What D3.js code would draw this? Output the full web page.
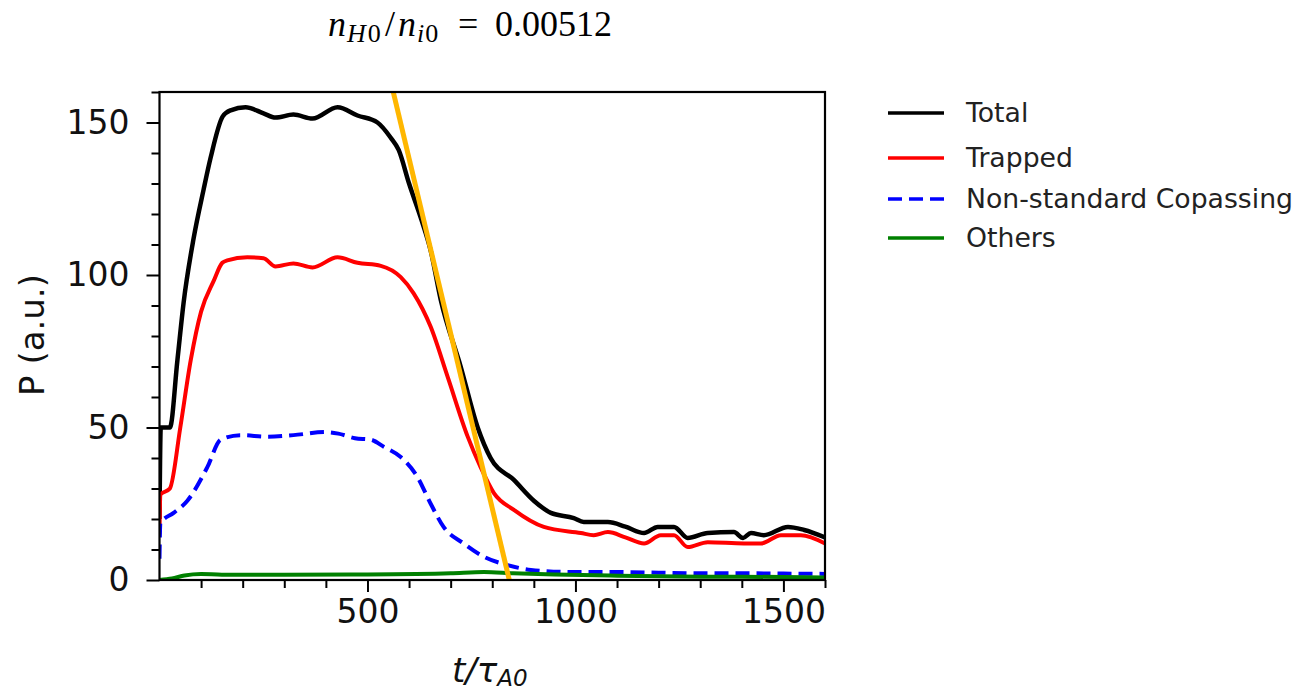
<!DOCTYPE html>
<html>
<head>
<meta charset="utf-8">
<script src="https://cdn.jsdelivr.net/npm/d3@7"></script>
<style>
  body { margin: 0; background: #fff; }
  svg { display: block; }
</style>
</head>
<body>
<svg width="1299" height="690"></svg>
<script>
// values, t in units of tau_A0, P in a.u.
var totalT = [0, 3, 25, 43, 58, 82, 106, 123, 152, 171, 207, 250, 279, 322, 368, 428, 476, 524, 556, 575, 600, 630, 652, 676, 724, 765, 796, 852, 900, 941, 996, 1020, 1078, 1120, 1165, 1198, 1237, 1270, 1318, 1381, 1403, 1422, 1453, 1511, 1550, 1600];
var totalP = [20, 50, 50, 72, 91, 112, 128, 138.5, 152, 154, 155, 153, 151.6, 152.6, 151.3, 155, 152.3, 150, 145, 141, 130, 118, 108, 92, 70, 50, 40, 32.8, 26, 22, 20.3, 19, 19, 17.5, 15.4, 17.4, 17.4, 13.8, 15.4, 15.7, 13.8, 15.4, 14.7, 17.4, 16.4, 14];

var trappedT = [0, 2, 25, 50, 75, 100, 130, 151, 163, 211, 250, 279, 322, 368, 428, 476, 532, 580, 611, 652, 693, 741, 772, 804, 852, 924, 1013, 1044, 1078, 1120, 1165, 1205, 1237, 1270, 1318, 1405, 1446, 1494, 1542, 1600];
var trappedP = [15, 28, 30, 50, 72, 88, 98, 104, 104.8, 105.8, 105.5, 102.8, 103.8, 102.5, 105.8, 104, 103, 99.3, 94, 83, 66.5, 47, 37, 28.5, 23, 17.4, 15.4, 14.7, 15.7, 14, 12, 14.7, 14.7, 10.8, 12.4, 12, 12, 14.7, 14.7, 12];

var copassT = [0, 2, 34, 67, 115, 147, 195, 260, 322, 400, 430, 470, 508, 540, 580, 620, 652, 683, 731, 780, 837, 893, 996, 1100, 1200, 1300, 1400, 1500, 1600];
var copassP = [7, 18.7, 22, 26, 37, 46, 47.5, 47, 47.5, 48.5, 48, 46.5, 46, 43.6, 40.3, 33.8, 25, 17.4, 12, 7.6, 4.9, 3.3, 2.6, 2.6, 2.4, 2.2, 2.2, 2.1, 2];

var othersT = [0, 30, 60, 100, 150, 300, 500, 700, 780, 850, 950, 1100, 1300, 1500, 1600];
var othersP = [0, 0.5, 1.5, 2, 1.7, 1.7, 1.8, 2.2, 2.6, 2.2, 1.8, 1.4, 1.1, 1, 0.8];

// fitted slope drawn in orange
var fitT = [562, 841];
var fitP = [160, 0];

var xMajor = [500, 1000, 1500];
var yMajor = [0, 50, 100, 150];

var series = [
  { name: "Total", t: totalT, p: totalP, color: "#000000", width: 4.5, dash: null },
  { name: "Trapped", t: trappedT, p: trappedP, color: "#ff0000", width: 4, dash: null },
  { name: "Non-standard Copassing", t: copassT, p: copassP, color: "#0000ff", width: 4, dash: "14,7" },
  { name: "Others", t: othersT, p: othersP, color: "#008000", width: 4, dash: null }
];

var svg = d3.select("svg"),
  plotL = 159.5, plotR = 825, plotT = 92, plotB = 580;

var x = d3.scaleLinear().domain([0, 1600]).range([plotL, plotR]);
var y = d3.scaleLinear().domain([0, 160]).range([plotB, plotT]);

var xMinor = d3.range(100, 1601, 100).filter(function(v) { return xMajor.indexOf(v) < 0; });
var yMinor = d3.range(10, 161, 10).filter(function(v) { return yMajor.indexOf(v) < 0; });

svg.append("defs").append("clipPath").attr("id", "plot")
  .append("rect")
  .attr("x", plotL).attr("y", plotT)
  .attr("width", plotR - plotL).attr("height", plotB - plotT);

// ticks
function styleAxis(g) {
  g.select(".domain").remove();
  g.selectAll(".tick line").attr("stroke", "#000").attr("stroke-width", 2);
  g.selectAll(".tick text")
    .attr("font-family", "DejaVu Sans")
    .attr("font-size", 33)
    .attr("fill", "#111");
}

svg.append("g")
  .attr("transform", "translate(0," + plotB + ")")
  .call(d3.axisBottom(x).tickValues(xMinor).tickSize(8).tickFormat(""))
  .call(styleAxis);
svg.append("g")
  .attr("transform", "translate(0," + plotB + ")")
  .call(d3.axisBottom(x).tickValues(xMajor).tickSize(12).tickPadding(8).tickFormat(d3.format("d")))
  .call(styleAxis);

svg.append("g")
  .attr("transform", "translate(" + plotL + ",0)")
  .call(d3.axisLeft(y).tickValues(yMinor).tickSize(8).tickFormat(""))
  .call(styleAxis);
svg.append("g")
  .attr("transform", "translate(" + plotL + ",0)")
  .call(d3.axisLeft(y).tickValues(yMajor).tickSize(13).tickPadding(17).tickFormat(d3.format("d")))
  .call(styleAxis);

// curves
var line = d3.line()
  .x(function(d) { return x(d[0]); })
  .y(function(d) { return y(d[1]); })
  .curve(d3.curveMonotoneX);

var lines = svg.append("g").attr("clip-path", "url(#plot)");

series.forEach(function(s) {
  lines.append("path")
    .datum(d3.zip(s.t, s.p))
    .attr("fill", "none")
    .attr("stroke", s.color)
    .attr("stroke-width", s.width)
    .attr("stroke-dasharray", s.dash)
    .attr("stroke-linejoin", "round")
    .attr("d", line);
});

lines.append("path")
  .datum(d3.zip(fitT, fitP))
  .attr("fill", "none")
  .attr("stroke", "#ffb700")
  .attr("stroke-width", 5)
  .attr("d", d3.line().x(function(d) { return x(d[0]); }).y(function(d) { return y(d[1]); }));

// frame
svg.append("rect")
  .attr("x", plotL).attr("y", plotT)
  .attr("width", plotR - plotL).attr("height", plotB - plotT)
  .attr("fill", "none")
  .attr("stroke", "#000")
  .attr("stroke-width", 2.2);

// axis labels
svg.append("text")
  .attr("transform", "translate(44,335) rotate(-90)")
  .attr("text-anchor", "middle")
  .attr("font-family", "DejaVu Sans")
  .attr("font-size", 34)
  .attr("fill", "#111")
  .text("P (a.u.)");

var xl = svg.append("text")
  .attr("x", 452).attr("y", 682)
  .attr("font-family", "DejaVu Sans")
  .attr("font-size", 34)
  .attr("fill", "#111");
xl.append("tspan").attr("font-style", "italic").text("t/τ");
xl.append("tspan").attr("font-style", "italic").attr("font-size", 23).attr("dy", 4).text("A0");

// title, LaTeX-like
var title = svg.append("text")
  .attr("y", 36)
  .attr("font-family", "Liberation Serif")
  .attr("font-size", 36)
  .attr("fill", "#000");
title.append("tspan").attr("x", 328).attr("font-style", "italic").text("n");
title.append("tspan").attr("x", 347).attr("font-size", 26).attr("dy", 6).attr("font-style", "italic").text("H");
title.append("tspan").attr("font-size", 26).attr("dx", 2).text("0");
title.append("tspan").attr("x", 385).attr("dy", -6).text("/");
title.append("tspan").attr("x", 398).attr("font-style", "italic").text("n");
title.append("tspan").attr("x", 417).attr("font-size", 26).attr("dy", 6).attr("font-style", "italic").text("i");
title.append("tspan").attr("font-size", 26).attr("dx", 1).text("0");
title.append("tspan").attr("x", 458).attr("dy", -6).text("=");
title.append("tspan").attr("x", 495).text("0.00512");

// legend
var legend = svg.append("g")
  .selectAll("g")
  .data(series)
  .enter().append("g")
  .attr("transform", function(d, i) { return "translate(888," + [113, 158, 199, 238][i] + ")"; });

legend.append("line")
  .attr("x1", 0).attr("x2", 56)
  .attr("stroke", function(d) { return d.color; })
  .attr("stroke-width", 3.5)
  .attr("stroke-dasharray", function(d) { return d.dash ? "14,7" : null; });

legend.append("text")
  .attr("x", 78)
  .attr("dy", "0.35em")
  .attr("font-family", "DejaVu Sans")
  .attr("font-size", 26.7)
  .attr("fill", "#222")
  .text(function(d) { return d.name; });
</script>
</body>
</html>
